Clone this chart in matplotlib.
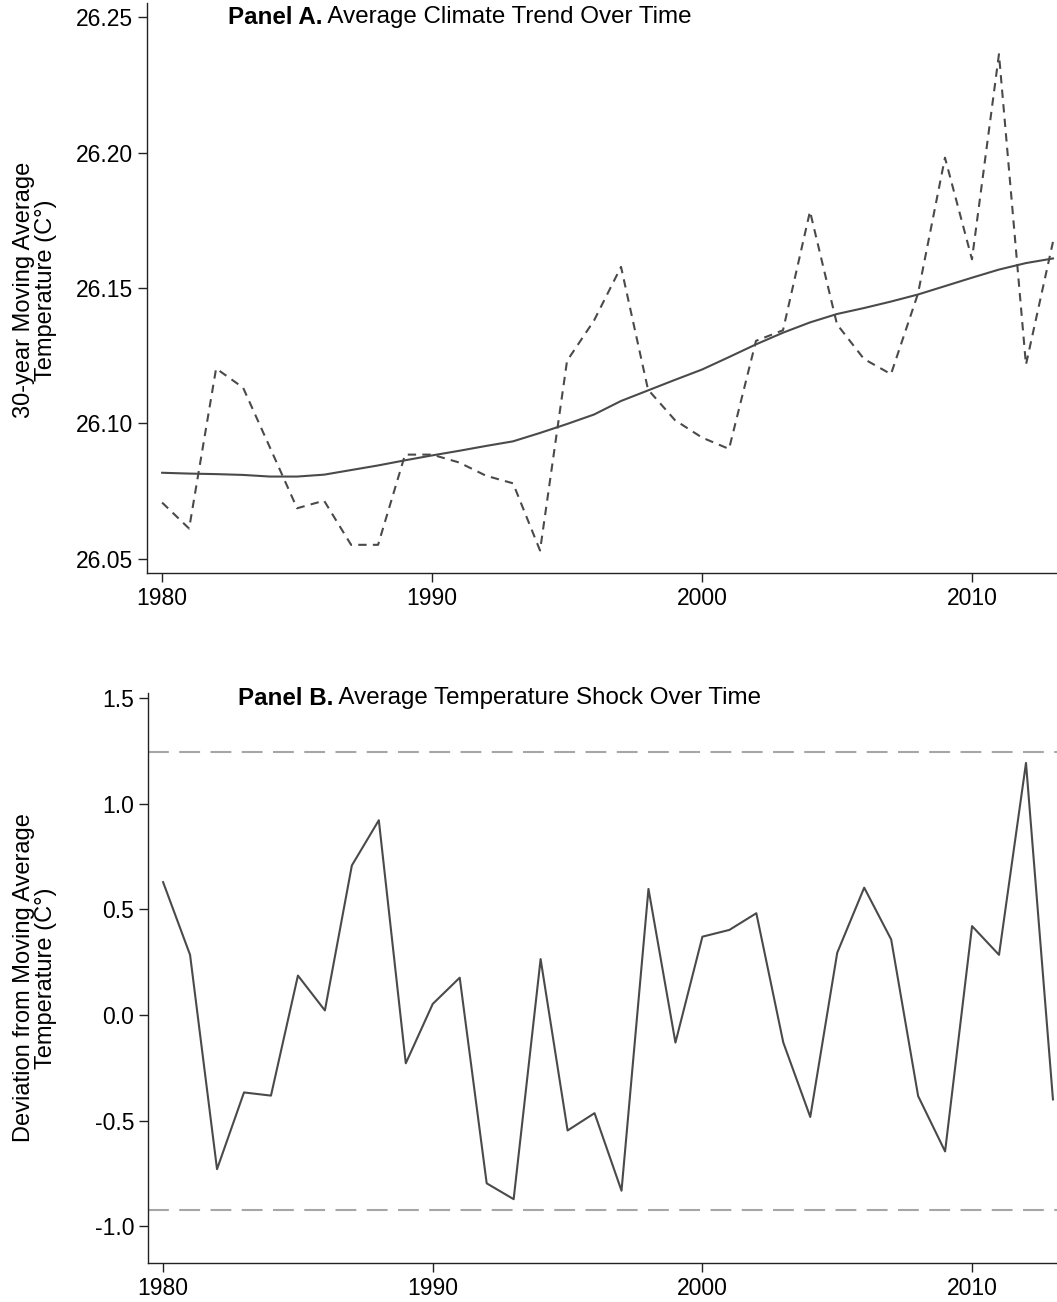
import matplotlib
matplotlib.use("Agg")
import matplotlib.pyplot as plt
from matplotlib.ticker import FixedLocator, FormatStrFormatter
from matplotlib.transforms import blended_transform_factory

plt.rcParams['font.family'] = ['Liberation Sans', 'DejaVu Sans']

# ---- data ----
years = list(range(1980, 2014))

# Panel A: yearly average temperature (dashed) and 30-year moving average (solid)
annual_temp = [26.0708, 26.0612, 26.1203, 26.1132, 26.0910, 26.0687, 26.0715, 26.0552,
               26.0552, 26.0885, 26.0885, 26.0856, 26.0807, 26.0779, 26.0531, 26.1231,
               26.1380, 26.1578, 26.1125, 26.1012, 26.0948, 26.0906, 26.1305, 26.1344,
               26.1783, 26.1366, 26.1238, 26.1182, 26.1479, 26.1981, 26.1606, 26.2363,
               26.1217, 26.1670]
moving_avg = [26.0818, 26.0815, 26.0813, 26.0810, 26.0804, 26.0804, 26.0811, 26.0828,
              26.0845, 26.0864, 26.0882, 26.0899, 26.0917, 26.0934, 26.0965, 26.0998,
              26.1033, 26.1083, 26.1122, 26.1161, 26.1199, 26.1245, 26.1292, 26.1335,
              26.1373, 26.1404, 26.1426, 26.1450, 26.1476, 26.1507, 26.1538, 26.1568,
              26.1592, 26.1609]

# Panel B: deviation from the moving average
shock = [0.629, 0.285, -0.729, -0.366, -0.381, 0.187, 0.022, 0.708, 0.922, -0.228,
         0.053, 0.177, -0.796, -0.871, 0.265, -0.546, -0.464, -0.831, 0.597, -0.130,
         0.371, 0.403, 0.482, -0.130, -0.482, 0.295, 0.603, 0.358, -0.383, -0.645,
         0.421, 0.285, 1.193, -0.399]
shock_bounds = [1.245, -0.920]

x_ticks = [1980, 1990, 2000, 2010]
a_ticks = [26.05, 26.10, 26.15, 26.20, 26.25]
b_ticks = [-1.0, -0.5, 0.0, 0.5, 1.0, 1.5]

line_col = '#4a4a4a'
ref_col = '#a6a6a6'
fs = 16.5

W, H = 1057, 1302
fig = plt.figure(figsize=(W / 100, H / 100), dpi=100)
axA = fig.add_axes([147 / W, 1 - 573 / H, 1 - 147 / W, 570 / H])
axB = fig.add_axes([148 / W, 1 - 1263 / H, 1 - 148 / W, 570 / H])


def style(ax, yticks, fmt):
    for s in ['top', 'right']:
        ax.spines[s].set_visible(False)
    for s in ['left', 'bottom']:
        ax.spines[s].set_linewidth(1.0)
        ax.spines[s].set_color('#222222')
    ax.set_xlim(1979.44, 2013.15)
    ax.xaxis.set_major_locator(FixedLocator(x_ticks))
    ax.yaxis.set_major_locator(FixedLocator(yticks))
    ax.yaxis.set_major_formatter(FormatStrFormatter(fmt))
    ax.tick_params(axis='both', direction='out', length=6.5, width=1.0,
                   color='#222222', labelsize=fs, pad=3.5)


def add_title(ax, x_px, y_val, bold, rest):
    # bold "Panel X." followed by the plain part of the title
    tr = blended_transform_factory(fig.transFigure, ax.transData)
    t = ax.text(x_px / W, y_val, bold, transform=tr, fontsize=17.4,
                fontweight='bold', va='center', ha='left')
    ax.annotate(rest, xy=(1, 0.5), xycoords=t, va='center', ha='left',
                fontsize=17.4)


# Panel A
axA.plot(years, moving_avg, color=line_col, lw=1.5, solid_joinstyle='round')
axA.plot(years, annual_temp, color=line_col, lw=1.5, dashes=(4, 3))
axA.set_ylim(26.0448, 26.2552)
style(axA, a_ticks, '%.2f')

# Panel B
for b in shock_bounds:
    axB.axhline(b, color=ref_col, lw=1.5, dashes=(10, 5))
axB.plot(years, shock, color=line_col, lw=1.5)
axB.set_ylim(-1.173, 1.524)
style(axB, b_ticks, '%.1f')

add_title(axA, 228, 26.25, 'Panel A.', ' Average Climate Trend Over Time')
add_title(axB, 238, 1.5, 'Panel B.', ' Average Temperature Shock Over Time')

fig.text(35 / W, 1 - 290 / H, '30-year Moving Average\nTemperature (C°)',
         rotation=90, ha='center', va='center', fontsize=17, linespacing=0.95)
fig.text(35 / W, 1 - 978 / H, 'Deviation from Moving Average\nTemperature (C°)',
         rotation=90, ha='center', va='center', fontsize=17, linespacing=0.95)

fig.savefig('out.png', dpi=100, facecolor='white')
